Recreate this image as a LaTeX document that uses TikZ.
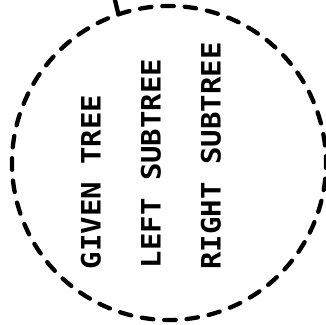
\documentclass[tikz,border=0pt]{standalone}
\usepackage{fontspec}
\newfontfamily\plotfont{DejaVu Sans Mono}
\begin{document}
\begin{tikzpicture}[x=1pt,y=1pt,
  ring/.style={line width=4.3pt, line cap=round, dash pattern=on 11.5pt off 10.92pt},
  stub/.style={line width=4.3pt, line cap=round, line join=round},
  lbl/.style={inner sep=0pt, rotate=90, font=\plotfont\bfseries\fontsize{29}{29}\selectfont}]
\useasboundingbox (0,0) rectangle (326,324);
\coordinate (c) at (169,161);
\coordinate (j) at ([shift={(108.8:157pt)}]c);
\coordinate (topend) at (114.5,326);
\draw[ring] (j) arc[start angle=108.8, end angle=-251.2, radius=157pt];
\draw[stub] (topend) -- (j);
\node[lbl] (given) at (91,142) {\scalebox{1}[0.92]{GIVEN TREE}};
\node[lbl] (left) at (151,160.5) {\scalebox{1}[0.92]{LEFT SUBTREE}};
\node[lbl] (right) at (211,168) {\scalebox{1}[0.92]{RIGHT SUBTREE}};
\end{tikzpicture}
\end{document}
